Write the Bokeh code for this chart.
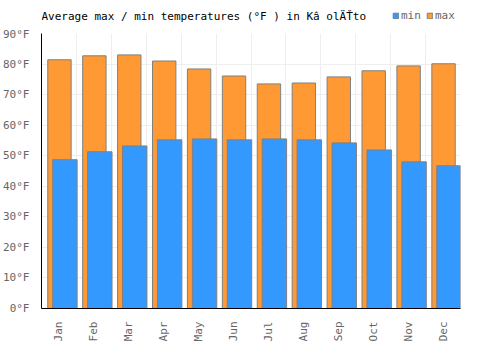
import numpy as np
from bokeh.plotting import figure
from bokeh.layouts import column
from bokeh.core.properties import value
from bokeh.models import (ColumnDataSource, FixedTicker, PrintfTickFormatter,
                          Legend, LegendItem, Range1d)
from bokeh.embed import file_html
from bokeh.resources import INLINE

months = ["Jan", "Feb", "Mar", "Apr", "May", "Jun", "Jul", "Aug", "Sep", "Oct", "Nov", "Dec"]
temp_max = [81.4, 82.7, 83.0, 81.0, 78.4, 76.1, 73.5, 73.8, 75.8, 77.8, 79.4, 80.1]
temp_min = [48.7, 51.3, 53.2, 55.2, 55.5, 55.2, 55.5, 55.2, 54.2, 51.9, 48.0, 46.7]
y_ticks = [0, 10, 20, 30, 40, 50, 60, 70, 80, 90]
title_text = "Average max / min temperatures (°F ) in Kâ  olÄŤto"

FONT = "DejaVu Sans Mono"
ORANGE = "#FF9933"
BLUE = "#3399FF"
EDGE = "#808080"
HEADER_H = 27

# ---------- header (title + legend); its frame is aligned with the chart frame ----------
hdr = figure(width=500, height=HEADER_H, output_backend="svg", toolbar_location=None,
             x_range=Range1d(0, 420), y_range=Range1d(0, HEADER_H),
             x_axis_location=None, y_axis_location=None,
             min_border=0, min_border_left=40, min_border_right=40,
             min_border_top=0, min_border_bottom=0)
hdr.grid.visible = False
hdr.outline_line_color = None
hdr.text(x=[0], y=[HEADER_H - 16], text=[title_text], text_font=value(FONT),
         text_font_size="11px", text_color="#000000", text_baseline="middle",
         text_align="left")
d_min = hdr.vbar(x=[-100], top=[-100], width=1, fill_color=BLUE, line_color=EDGE)
d_max = hdr.vbar(x=[-100], top=[-100], width=1, fill_color=ORANGE, line_color=EDGE)
legend = Legend(items=[LegendItem(label="min", renderers=[d_min]),
                       LegendItem(label="max", renderers=[d_max])],
                orientation="horizontal", location=(351, HEADER_H - 22),
                label_text_font=FONT, label_text_font_size="11px",
                label_text_color="#666666", glyph_width=7, glyph_height=7,
                label_standoff=2, spacing=5, padding=0, margin=0,
                background_fill_alpha=0, border_line_color=None,
                label_height=12)
hdr.add_layout(legend, "center")

# ---------- main chart ----------
idx = np.arange(len(months))
src = ColumnDataSource(dict(
    x_max=idx + 0.514,
    x_min=idx + 0.67,
    tmax=temp_max,
    tmin=temp_min,
))

p = figure(width=500, height=350 - HEADER_H, output_backend="svg", toolbar_location=None,
           x_range=Range1d(0, 12), y_range=Range1d(0, 90),
           min_border_left=40, min_border_right=40, min_border_top=33 - HEADER_H,
           min_border_bottom=42)

p.vbar(x="x_max", top="tmax", bottom=0, width=0.67, source=src,
       fill_color=ORANGE, line_color=EDGE, line_width=1)
p.vbar(x="x_min", top="tmin", bottom=0, width=0.70, source=src,
       fill_color=BLUE, line_color=EDGE, line_width=1)

p.outline_line_color = None

p.yaxis.ticker = FixedTicker(ticks=y_ticks)
p.yaxis.formatter = PrintfTickFormatter(format="%d°F")
p.yaxis.major_label_text_font = FONT
p.yaxis.major_label_text_font_size = "11px"
p.yaxis.major_label_text_color = "#666666"
p.yaxis.major_tick_line_color = None
p.yaxis.minor_tick_line_color = None
p.yaxis.axis_line_color = "#000000"
p.yaxis.major_label_standoff = 6

p.xaxis.ticker = FixedTicker(ticks=list(idx + 0.5))
p.xaxis.major_label_overrides = {float(i + 0.5): m for i, m in enumerate(months)}
p.xaxis.major_label_orientation = np.pi / 2
p.xaxis.major_label_text_font = FONT
p.xaxis.major_label_text_font_size = "11px"
p.xaxis.major_label_text_color = "#666666"
p.xaxis.major_tick_line_color = None
p.xaxis.minor_tick_line_color = None
p.xaxis.axis_line_color = "#000000"
p.xaxis.major_label_standoff = 7

p.xgrid.ticker = FixedTicker(ticks=list(range(0, 13)))
p.ygrid.ticker = FixedTicker(ticks=y_ticks)
p.xgrid.grid_line_color = "#eeeeee"
p.ygrid.grid_line_color = "#eeeeee"

layout = column(hdr, p, spacing=0)
open("out.html", "w").write(file_html(layout, INLINE))
